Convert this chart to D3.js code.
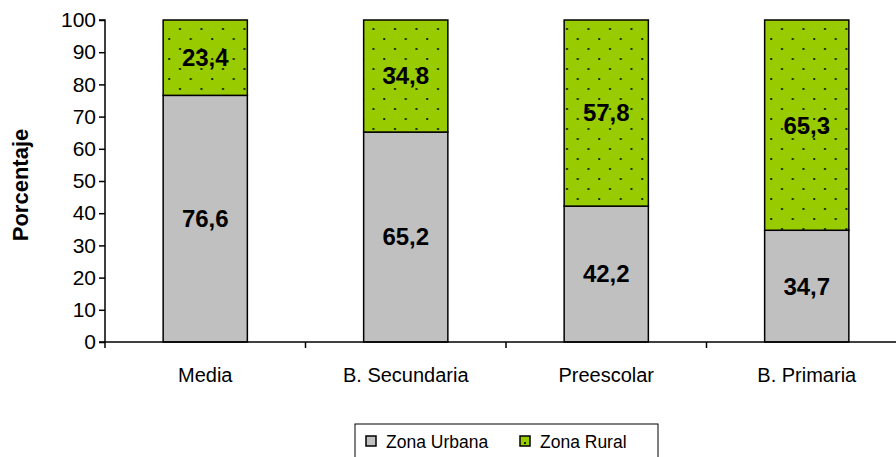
<!DOCTYPE html>
<html>
<head>
<meta charset="utf-8">
<script src="https://cdn.jsdelivr.net/npm/d3@7"></script>
<style>
  body { margin: 0; background: #fff; }
  svg { font-family: "Liberation Sans", Arial, sans-serif; }
</style>
</head>
<body>
<svg id="chart" width="896" height="457"></svg>
<script>
// data
var categories = ["Media", "B. Secundaria", "Preescolar", "B. Primaria"]
var urbana = [76.6, 65.2, 42.2, 34.7]
var rural = [23.4, 34.8, 57.8, 65.3]
var yTicks = [0, 10, 20, 30, 40, 50, 60, 70, 80, 90, 100]
var seriesNames = ["Zona Urbana", "Zona Rural"]

var vis = {
  left: 105, right: 907, top: 20, bottom: 342,
  barpad: 0.58,
  grey: "#c0c0c0",
  green: "#99cc00"
}

var svg = d3.select("#chart")

// dotted fill for the rural bars
var pat = svg.append("defs").append("pattern")
  .attr("id", "dots")
  .attr("patternUnits", "userSpaceOnUse")
  .attr("width", 21.5).attr("height", 20)
pat.append("rect").attr("width", 21.5).attr("height", 20).attr("fill", vis.green)
pat.append("rect").attr("x", 7).attr("y", 8).attr("width", 2).attr("height", 2).attr("fill", "#1a2a00")
pat.append("rect").attr("x", 17.75).attr("y", 18).attr("width", 2).attr("height", 2).attr("fill", "#1a2a00")

var x = d3.scaleBand()
  .domain(categories)
  .range([vis.left, vis.right])
  .paddingInner(vis.barpad)
  .paddingOuter(vis.barpad / 2)

var y = d3.scaleLinear()
  .domain([0, 100])
  .range([vis.bottom, vis.top])

var rows = categories.map(function(c, i) {
  return { name: c, urbana: urbana[i], rural: rural[i] }
})

// bars
var g = svg.append("g")
g.selectAll("rect.urb")
  .data(rows).enter().append("rect")
  .attr("class", "urb")
  .attr("x", function(d) { return x(d.name) })
  .attr("y", function(d) { return y(d.urbana) })
  .attr("width", x.bandwidth())
  .attr("height", function(d) { return y(0) - y(d.urbana) })
  .attr("fill", vis.grey)
  .attr("stroke", "#000").attr("stroke-width", 1.5)

g.selectAll("rect.rur")
  .data(rows).enter().append("rect")
  .attr("class", "rur")
  .attr("x", function(d) { return x(d.name) })
  .attr("y", function(d) { return y(d.urbana + d.rural) })
  .attr("width", x.bandwidth())
  .attr("height", function(d) { return y(d.urbana) - y(d.urbana + d.rural) })
  .attr("fill", "url(#dots)")
  .attr("stroke", "#000").attr("stroke-width", 1.5)

// value labels
function fmt(v) { return v.toFixed(1).replace(".", ",") }
g.selectAll("text.lu")
  .data(rows).enter().append("text")
  .attr("x", function(d) { return x(d.name) + x.bandwidth() / 2 })
  .attr("y", function(d) { return y(d.urbana / 2) })
  .attr("dy", "0.35em")
  .attr("text-anchor", "middle")
  .attr("font-size", 24).attr("font-weight", "bold")
  .text(function(d) { return fmt(d.urbana) })
g.selectAll("text.lr")
  .data(rows).enter().append("text")
  .attr("x", function(d) { return x(d.name) + x.bandwidth() / 2 })
  .attr("y", function(d) { return y(d.urbana + d.rural / 2) })
  .attr("dy", "0.35em")
  .attr("text-anchor", "middle")
  .attr("font-size", 24).attr("font-weight", "bold")
  .text(function(d) { return fmt(d.rural) })

// y axis
var yAxis = svg.append("g")
  .attr("transform", "translate(" + vis.left + ",0)")
  .call(d3.axisLeft(y).tickValues(yTicks).tickSize(6).tickPadding(3))
yAxis.selectAll("text").attr("font-size", 21).attr("fill", "#000").attr("font-family", null)
yAxis.selectAll("line, path").attr("stroke", "#000").attr("stroke-width", 1.5)
yAxis.select("path").attr("d", "M-6," + vis.top + "H0V" + vis.bottom)

// x axis with ticks at category boundaries
var xAxis = svg.append("g")
  .attr("transform", "translate(0," + vis.bottom + ")")
xAxis.append("line")
  .attr("x1", vis.left - 6).attr("x2", 896)
  .attr("stroke", "#000").attr("stroke-width", 1.5)
var step = x.step()
xAxis.selectAll("line.tk")
  .data(categories.concat(["end"])).enter().append("line")
  .attr("class", "tk")
  .attr("x1", function(d, i) { return vis.left + i * step })
  .attr("x2", function(d, i) { return vis.left + i * step })
  .attr("y1", 0).attr("y2", 6)
  .attr("stroke", "#000").attr("stroke-width", 1.5)
xAxis.selectAll("text")
  .data(categories).enter().append("text")
  .attr("x", function(d) { return x(d) + x.bandwidth() / 2 })
  .attr("y", 40)
  .attr("text-anchor", "middle")
  .attr("font-size", 20)
  .text(function(d) { return d })

// y axis title
svg.append("text")
  .attr("transform", "translate(28," + 185 + ") rotate(-90)")
  .attr("text-anchor", "middle")
  .attr("font-size", 22).attr("font-weight", "bold")
  .text("Porcentaje")

// legend
var leg = svg.append("g")
leg.append("rect")
  .attr("x", 355).attr("y", 424).attr("width", 303).attr("height", 40)
  .attr("fill", "#fff").attr("stroke", "#000").attr("stroke-width", 1)
var items = leg.selectAll("g.item")
  .data(seriesNames).enter().append("g")
  .attr("transform", function(d, i) { return "translate(" + (i == 0 ? 366 : 520) + ",0)" })
items.append("rect")
  .attr("x", 0).attr("y", 436).attr("width", 10).attr("height", 10)
  .attr("fill", function(d, i) { return i == 0 ? vis.grey : vis.green })
  .attr("stroke", "#000").attr("stroke-width", 1.5)
items.filter(function(d, i) { return i == 1 })
  .append("rect").attr("x", 4).attr("y", 442).attr("width", 2).attr("height", 2).attr("fill", "#1a2a00")
items.append("text")
  .attr("x", 20).attr("y", 448)
  .attr("font-size", 17.5)
  .text(function(d) { return d })
</script>
</body>
</html>
